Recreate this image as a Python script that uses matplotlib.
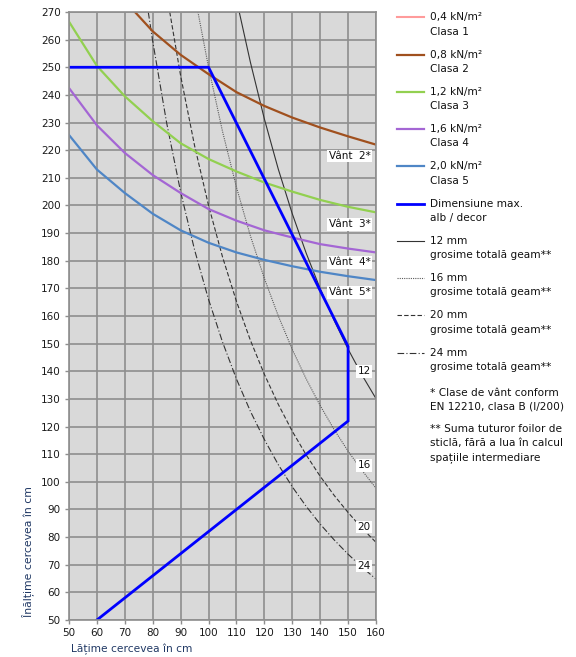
import matplotlib
matplotlib.use("Agg")
import matplotlib.pyplot as plt
from matplotlib.lines import Line2D

# ---------------- data ----------------
wind_x = [50, 60, 70, 80, 90, 100, 110, 120, 130, 140, 150, 160]
class2_x = [70, 80, 90, 100, 110, 120, 130, 140, 150, 160]
class2_y = [274, 263, 254.5, 247.5, 241, 236, 231.8, 228.2, 225, 222]
class3_y = [266.5, 250.5, 239.5, 230.5, 222.5, 216.8, 212.3, 208.3, 205, 202, 199.5, 197.5]
class4_y = [242.5, 229, 219, 211, 204.5, 198.7, 194.5, 191, 188.4, 186, 184.4, 183]
class5_y = [225.5, 213, 204.5, 197, 191, 186.5, 183, 180.3, 178, 176, 174.4, 173]

dim_x = [50, 100, 150, 150, 60]
dim_y = [250, 250, 149, 122, 50]

g12_x = [111.0, 115, 120, 125, 130, 135, 140, 145, 150, 155, 160]
g12_y = [270, 251.8, 231.3, 213.1, 197.0, 182.7, 169.9, 158.4, 148.0, 138.6, 130.1]
g16_x = [96.2, 100, 105, 110, 115, 120, 125, 130, 135, 140, 145, 150, 155, 160]
g16_y = [270, 250, 226.8, 206.6, 189.0, 173.6, 160.0, 147.9, 137.2, 127.6, 118.9, 111.1, 104.1, 97.7]
g20_x = [86.1, 90, 95, 100, 105, 110, 115, 120, 125, 130, 135, 140, 145, 150, 155, 160]
g20_y = [270, 246.9, 221.6, 200, 181.4, 165.3, 151.2, 138.9, 128.0, 118.3, 109.7, 102.0, 95.1, 88.9, 83.2, 78.1]
g24_x = [78.4, 80, 85, 90, 95, 100, 105, 110, 115, 120, 125, 130, 135, 140, 145, 150, 155, 160]
g24_y = [270, 259.4, 229.8, 204.9, 183.9, 166.0, 150.6, 137.2, 125.5, 115.3, 106.2, 98.2, 91.1, 84.7, 79.0, 73.8, 69.1, 64.8]

x_ticks = [50, 60, 70, 80, 90, 100, 110, 120, 130, 140, 150, 160]
y_ticks = [50, 60, 70, 80, 90, 100, 110, 120, 130, 140, 150, 160, 170, 180, 190, 200,
           210, 220, 230, 240, 250, 260, 270]

wind_labels = ["Vânt  2*", "Vânt  3*", "Vânt  4*", "Vânt  5*"]
wind_label_y = [217.9, 193.2, 179.4, 168.6]
glass_labels = ["12", "16", "20", "24"]
glass_label_y = [140, 106, 83.7, 69.5]

legend_l1 = ["0,4 kN/m²", "0,8 kN/m²", "1,2 kN/m²", "1,6 kN/m²", "2,0 kN/m²",
             "Dimensiune max.", "12 mm", "16 mm", "20 mm", "24 mm"]
legend_l2 = ["Clasa 1", "Clasa 2", "Clasa 3", "Clasa 4", "Clasa 5",
             "alb / decor", "grosime totală geam**", "grosime totală geam**",
             "grosime totală geam**", "grosime totală geam**"]
notes = ["* Clase de vânt conform", "EN 12210, clasa B (l/200)", "",
         "** Suma tuturor foilor de", "sticlă, fără a lua în calcul", "spațiile intermediare"]

# ---------------- styles ----------------
c1 = "#ff9b9b"
c2 = "#a0501e"
c3 = "#92d050"
c4 = "#a466d4"
c5 = "#4f86c6"
cdim = "#0000ff"
cg = "#333333"
styles = [
    dict(color=c1, lw=1.5, ls="-"),
    dict(color=c2, lw=1.6, ls="-"),
    dict(color=c3, lw=1.6, ls="-"),
    dict(color=c4, lw=1.6, ls="-"),
    dict(color=c5, lw=1.6, ls="-"),
    dict(color=cdim, lw=2.0, ls="-"),
    dict(color=cg, lw=0.8, ls="-"),
    dict(color="#5a5a5a", lw=0.8, ls=(0, (1, 1))),
    dict(color=cg, lw=0.8, ls=(0, (4, 2))),
    dict(color=cg, lw=0.8, ls=(0, (6, 2, 1, 2))),
]

W, H = 576, 657
fig = plt.figure(figsize=(W / 100, H / 100), dpi=100)
fig.patch.set_facecolor("white")
ax = fig.add_axes([69 / W, 1 - 620 / H, (376 - 69) / W, (620 - 12) / H])
ax.set_facecolor("#d9d9d9")

# glass curves
ax.plot(g12_x, g12_y, **styles[6])
ax.plot(g16_x, g16_y, **styles[7])
ax.plot(g20_x, g20_y, **styles[8])
ax.plot(g24_x, g24_y, **styles[9])
# wind classes
ax.plot(class2_x, class2_y, **styles[1])
ax.plot(wind_x, class3_y, **styles[2])
ax.plot(wind_x, class4_y, **styles[3])
ax.plot(wind_x, class5_y, **styles[4])
# max dimension
ax.plot(dim_x, dim_y, solid_joinstyle="miter", **styles[5])

ax.set_xlim(50, 160)
ax.set_ylim(50, 270)
ax.set_xticks(x_ticks)
ax.set_yticks(y_ticks)
ax.grid(True, color="#8e8e8e", lw=1.2)
ax.set_axisbelow(True)
for s in ax.spines.values():
    s.set_color("#8e8e8e")
    s.set_linewidth(1.2)
ax.tick_params(axis="both", length=3, width=1, color="#8e8e8e",
               labelsize=7.5, labelcolor="#1a1a1a", pad=3)
for lab in ax.get_xticklabels() + ax.get_yticklabels():
    lab.set_family("DejaVu Sans")

ax.set_xlabel("Lățime cercevea în cm", fontsize=7.7, color="#203864",
              family="DejaVu Sans", va="center", ha="center")
ax.xaxis.set_label_coords((131.5 - 69) / 307, (620 - 649) / 608)
ax.set_ylabel("Înălțime cercevea în cm", fontsize=7.8, color="#203864",
              family="DejaVu Sans", va="center", ha="center")
ax.yaxis.set_label_coords((28 - 69) / 307, (620 - 552) / 608)

box = dict(facecolor="white", edgecolor="none", pad=1.0)
for t, yv in zip(wind_labels, wind_label_y):
    ax.text(143.0, yv, t, fontsize=7.5, ha="left", va="center", bbox=box,
            family="DejaVu Sans", color="#111111")
for t, yv in zip(glass_labels, glass_label_y):
    ax.text(155.7, yv, t, fontsize=7.5, ha="center", va="center", bbox=box,
            family="DejaVu Sans", color="#111111")

# ---------------- legend (manual, outside) ----------------
def fx(px):
    return px / W

def fy(py):
    return 1 - py / H

y0 = 17.3
step = 37.27
for i, (a, b) in enumerate(zip(legend_l1, legend_l2)):
    yy = y0 + i * step
    st = styles[i]
    fig.add_artist(Line2D([fx(396.5), fx(423.5)], [fy(yy), fy(yy)],
                          color=st["color"], lw=st["lw"], ls=st["ls"]))
    fig.text(fx(430), fy(yy), a, fontsize=7.6, ha="left", va="center",
             family="DejaVu Sans", color="#111111")
    fig.text(fx(430), fy(yy + 14.3), b, fontsize=7.6, ha="left", va="center",
             family="DejaVu Sans", color="#111111")

ny = 392.7
for t in notes:
    if t:
        fig.text(fx(430), fy(ny), t, fontsize=7.6, ha="left", va="center",
                 family="DejaVu Sans", color="#111111")
    ny += 13.9 if t else 9.0

fig.savefig("out.png", dpi=100)
